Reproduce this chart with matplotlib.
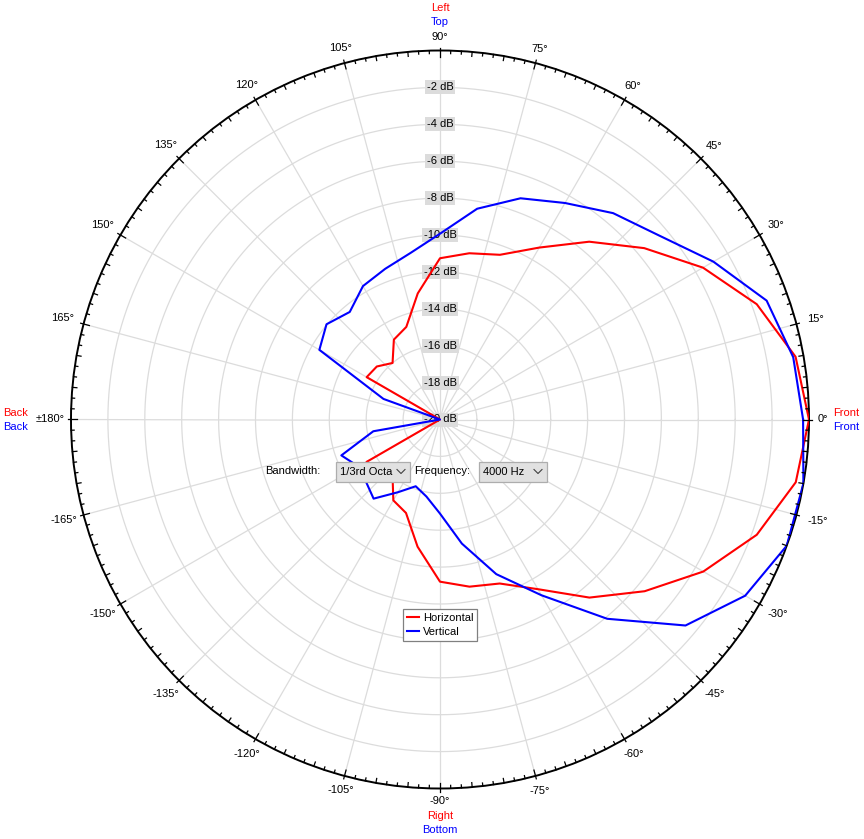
import numpy as np
import matplotlib
matplotlib.use("Agg")
import matplotlib.pyplot as plt
from matplotlib.patches import Rectangle

plt.rcParams['font.family'] = ['Liberation Sans', 'DejaVu Sans']

# ---------------- data ----------------
angles_deg = [0, 10, 20, 30, 40, 50, 60, 70, 80, 90, 100, 110, 120, 130, 140, 150, 160, 170, 180,
              -170, -160, -150, -140, -130, -120, -110, -100, -90, -80, -70, -60, -50, -40, -30, -20, -10]
horizontal_db = [0.0, -0.43, -1.73, -3.54, -5.55, -7.42, -9.24, -10.5, -10.85, -11.26, -13.06, -14.66,
                 -15.0, -16.0, -15.53, -15.41, -20, -20, -20,
                 -20, -20, -15.4, -15.5, -16.0, -14.94, -14.61, -13.0, -11.21, -10.8, -10.54, -9.38,
                 -7.4, -5.52, -3.52, -1.73, -0.42]
vertical_db = [-0.32, -0.56, -1.16, -2.89, -4.49, -5.4, -6.45, -7.24, -8.4, -9.93, -10.83, -11.31,
               -11.65, -12.39, -11.97, -12.45, -16.74, -20, -20,
               -16.33, -14.31, -14.9, -14.76, -14.4, -15.45, -16.15, -15.76, -14.9, -13.17, -11.08, -9.0,
               -5.9, -2.63, -0.9, 0.0, 0.0]
ring_db = [-20, -18, -16, -14, -12, -10, -8, -6, -4, -2]
spoke_deg = list(range(0, 360, 15))
tick_label_deg = [0, 15, 30, 45, 60, 75, 90, 105, 120, 135, 150, 165, 180,
                  -165, -150, -135, -120, -105, -90, -75, -60, -45, -30, -15]
tick_labels = ["0°", "15°", "30°", "45°", "60°", "75°", "90°", "105°", "120°", "135°", "150°", "165°", "±180°",
               "-165°", "-150°", "-135°", "-120°", "-105°", "-90°", "-75°", "-60°", "-45°", "-30°", "-15°"]
series_names = ["Horizontal", "Vertical"]
series_colors = ["#ff0000", "#0000ff"]

# ---------------- figure ----------------
W, H = 864, 839
fig = plt.figure(figsize=(W / 100, H / 100), dpi=100)
fig.patch.set_facecolor('white')

cx, cy, R = 440, 419.5, 369
ax = fig.add_axes([(cx - R) / W, (H - cy - R) / H, 2 * R / W, 2 * R / H], projection='polar')
ax.set_rlim(-20, 0)
ax.set_xticks([])
ax.set_yticks([])
ax.grid(False)
ax.spines['polar'].set_color('black')
ax.spines['polar'].set_linewidth(1.4)

grid_c = '#dcdcdc'
th = np.linspace(0, 2 * np.pi, 721)
for r in ring_db[1:]:
    ax.plot(th, np.full_like(th, r), color=grid_c, lw=0.9, zorder=1)
for a in spoke_deg:
    ax.plot([np.deg2rad(a)] * 2, [-20, 0], color=grid_c, lw=0.9, zorder=1)

# tick marks on outer circle
px = 20.0 / R
for k in range(216):
    a = np.deg2rad(k * 5.0 / 3.0)
    if k % 9 == 0:
        r0, r1 = -6 * px, 3 * px
    elif k % 3 == 0:
        r0, r1 = -4.5 * px, 0
    else:
        r0, r1 = -3 * px, 0
    ax.plot([a, a], [r0, r1], color='black', lw=0.9, clip_on=False, zorder=5)

# dB labels
for r in ring_db:
    ax.text(np.pi / 2, r, f"{r} dB", ha='center', va='center', fontsize=8, zorder=3,
            bbox=dict(boxstyle='square,pad=0.18', fc='#dcdcdc', ec='none'))

# curves
handles = []
for vals, name, col in zip([horizontal_db, vertical_db], series_names, series_colors):
    a = np.deg2rad(angles_deg + [angles_deg[0]])
    v = vals + [vals[0]]
    ln, = ax.plot(a, v, color=col, lw=1.5, zorder=4, label=name)
    handles.append(ln)

# ---------------- overlay in pixel coordinates ----------------
ov = fig.add_axes([0, 0, 1, 1], zorder=10)
ov.set_xlim(0, W)
ov.set_ylim(H, 0)
ov.axis('off')
ov.patch.set_alpha(0)

kmap = {2: 1, 3: 7, 4: 9, 5: 8}
for a, lab in zip(tick_label_deg, tick_labels):
    t = np.deg2rad(a)
    rr = 382 + kmap.get(len(lab), 8) * abs(np.cos(t))
    ov.text(cx + rr * np.cos(t), cy - rr * np.sin(t), lab, ha='center', va='center', fontsize=8)

ov.text(440, 8, "Left", color='red', ha='center', va='center', fontsize=8)
ov.text(440, 22, "Top", color='blue', ha='center', va='center', fontsize=8)
ov.text(440, 816, "Right", color='red', ha='center', va='center', fontsize=8)
ov.text(440, 830, "Bottom", color='blue', ha='center', va='center', fontsize=8)
ov.text(846, 413, "Front", color='red', ha='center', va='center', fontsize=8)
ov.text(846, 427, "Front", color='blue', ha='center', va='center', fontsize=8)
ov.text(16, 413, "Back", color='red', ha='center', va='center', fontsize=8)
ov.text(16, 427, "Back", color='blue', ha='center', va='center', fontsize=8)

# widgets
ov.text(293, 471.5, "Bandwidth:", ha='center', va='center', fontsize=8)
ov.text(442, 471.5, "Frequency:", ha='center', va='center', fontsize=8)
for (x0, x1, txt) in [(336, 410, "1/3rd Octa"), (479, 547, "4000 Hz")]:
    ov.add_patch(Rectangle((x0, 461.5), x1 - x0, 20.5, fc='#e1e1e1', ec='#adadad', lw=0.9))
    ov.text(x0 + 4, 472, txt, ha='left', va='center', fontsize=8)
    chx = x1 - 9
    ov.plot([chx - 4, chx, chx + 4], [469.5, 473.5, 469.5], color='#404040', lw=0.8)

leg = fig.legend(handles=handles, loc='upper left', bbox_to_anchor=(403 / W, 1 - 609 / H),
                 bbox_transform=fig.transFigure, borderaxespad=0, frameon=True, fancybox=False,
                 edgecolor='#808080', framealpha=1, handlelength=1.1, handletextpad=0.35,
                 borderpad=0.35, labelspacing=0.35, fontsize=8)
leg.get_frame().set_linewidth(0.9)
leg.set_zorder(20)

fig.savefig("out.png", dpi=100, facecolor='white')
